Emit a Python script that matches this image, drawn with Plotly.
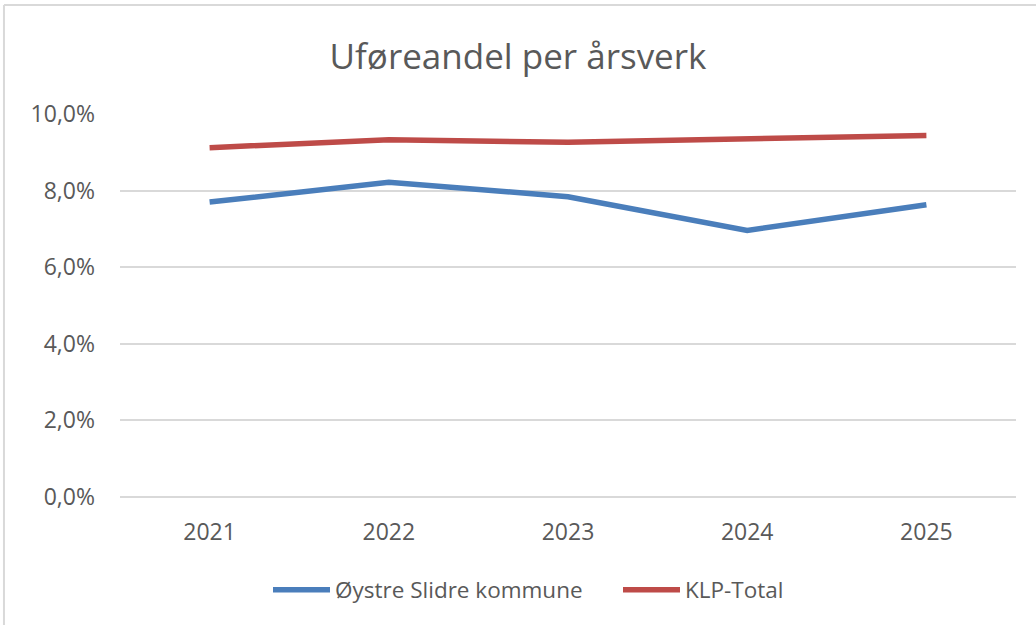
import plotly.graph_objects as go

years = ["2021", "2022", "2023", "2024", "2025"]
oystre = [0.0770, 0.0822, 0.0784, 0.0696, 0.0763]
klp = [0.0912, 0.0933, 0.0926, 0.0935, 0.0944]

fig = go.Figure()
fig.add_trace(go.Scatter(x=years, y=oystre, mode="lines", name="Øystre Slidre kommune",
                         line=dict(color="#4A7EBB", width=5.5)))
fig.add_trace(go.Scatter(x=years, y=klp, mode="lines", name="KLP-Total",
                         line=dict(color="#BE4B48", width=5.5)))

font = "'Open Sans', sans-serif"
fig.update_layout(
    width=1036, height=625,
    paper_bgcolor="white", plot_bgcolor="white",
    margin=dict(l=120, r=20, t=114, b=128),
    separators=", ",
    title=dict(text="Uføreandel per årsverk", x=0.5, xanchor="center", y=0.909, yanchor="middle",
               font=dict(family=font, size=35, color="#595959")),
    xaxis=dict(type="category", range=[-0.5, 4.5], showgrid=False, showline=False, ticks="",
               tickfont=dict(family=font, size=23, color="#595959"), ticklabelstandoff=19),
    yaxis=dict(range=[0, 0.1], dtick=0.02, tickformat=".1%", showgrid=True, gridcolor="#D9D9D9",
               gridwidth=1.5, zeroline=True, zerolinecolor="#D9D9D9", zerolinewidth=1.5,
               showline=False, ticks="", ticklabelstandoff=24,
               tickfont=dict(family=font, size=23, color="#595959")),
    legend=dict(orientation="h", x=(268 - 120) / 896, xanchor="left", y=-0.243, yanchor="middle",
                font=dict(family=font, size=22.5, color="#595959"), itemwidth=57,
                entrywidth=278, entrywidthmode="pixels", traceorder="normal"),
    shapes=[
        dict(type="line", xref="paper", yref="paper", x0=-0.1295, x1=1.1, y0=1.2846, y1=1.2846,
             line=dict(color="#D9D9D9", width=2)),
        dict(type="line", xref="paper", yref="paper", x0=-0.1295, x1=-0.1295, y0=1.2846, y1=-0.4,
             line=dict(color="#D9D9D9", width=2)),
    ],
)
fig.write_html("out.html", config={"displayModeBar": False},
               post_script="document.body.style.margin='0';")
